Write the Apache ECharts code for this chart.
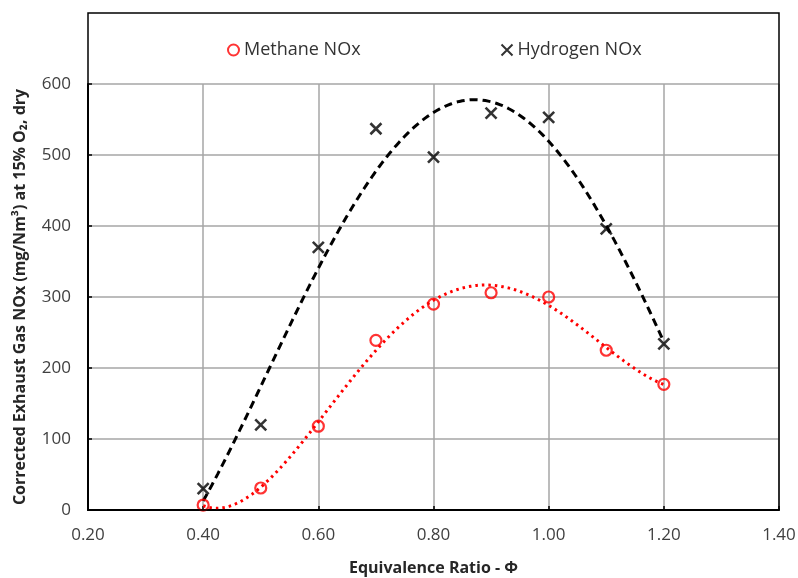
<!DOCTYPE html>
<html>
<head>
<meta charset="utf-8">
<script src="https://cdn.jsdelivr.net/npm/echarts@6/dist/echarts.min.js"></script>
<style>html,body{margin:0;padding:0;background:#fff}#c{width:798px;height:578px}</style>
</head>
<body>
<div id="c"></div>
<script>
// ---- data ----
const phi = [0.40, 0.50, 0.60, 0.70, 0.80, 0.90, 1.00, 1.10, 1.20];
const methaneNOx = [7, 31, 118, 239, 290, 306, 300, 225, 177];
const hydrogenNOx = [30, 120, 370, 537, 497, 559, 553, 396, 234];
const xTicks = [0.20, 0.40, 0.60, 0.80, 1.00, 1.20, 1.40];
const yTicks = [0, 100, 200, 300, 400, 500, 600];
const methaneOrder = 4;
const hydrogenOrder = 4;

// polynomial least-squares trendline (like a spreadsheet trendline)
function polyFit(xs, ys, order) {
  const c = 0.8;
  const n = order + 1;
  const A = Array.from({length: n}, () => new Array(n + 1).fill(0));
  for (let k = 0; k < xs.length; k++) {
    const t = xs[k] - c;
    const p = [];
    for (let i = 0; i < n; i++) p.push(Math.pow(t, i));
    for (let i = 0; i < n; i++) {
      for (let j = 0; j < n; j++) A[i][j] += p[i] * p[j];
      A[i][n] += p[i] * ys[k];
    }
  }
  for (let i = 0; i < n; i++) {
    let m = i;
    for (let r = i + 1; r < n; r++) if (Math.abs(A[r][i]) > Math.abs(A[m][i])) m = r;
    [A[i], A[m]] = [A[m], A[i]];
    for (let r = 0; r < n; r++) {
      if (r === i) continue;
      const f = A[r][i] / A[i][i];
      for (let j = i; j <= n; j++) A[r][j] -= f * A[i][j];
    }
  }
  const coef = A.map((row, i) => row[n] / row[i]);
  return x => coef.reduce((s, a, i) => s + a * Math.pow(x - c, i), 0);
}
function trend(xs, ys, order) {
  const f = polyFit(xs, ys, order);
  const lo = Math.min(...xs), hi = Math.max(...xs);
  const pts = [];
  const steps = 160;
  for (let i = 0; i <= steps; i++) {
    const x = lo + (hi - lo) * i / steps;
    pts.push([x, f(x)]);
  }
  return pts;
}

const FONT = 'Open Sans';
const chart = echarts.init(document.getElementById('c'), null, {renderer: 'canvas'});
chart.setOption({
  animation: false,
  backgroundColor: '#fff',
  textStyle: {fontFamily: FONT},
  grid: {left: 88, right: 19, top: 84, bottom: 68, containLabel: false, outerBoundsMode: 'none'},
  graphic: [{
    type: 'rect', z: 100, silent: true,
    shape: {x: 88, y: 13, width: 691, height: 497},
    style: {fill: 'none', stroke: '#000', lineWidth: 1.5}
  }],
  legend: [
    {data: ['Methane NOx'], left: 222, top: 36, itemWidth: 11, itemHeight: 11, itemGap: 4,
     textStyle: {fontFamily: FONT, fontSize: 18, color: '#333'}},
    {data: ['Hydrogen NOx'], left: 494, top: 36, itemWidth: 11, itemHeight: 11, itemGap: 4,
     textStyle: {fontFamily: FONT, fontSize: 18, color: '#333'}}
  ],
  xAxis: {
    type: 'value', min: 0.2, max: 1.4, interval: 0.2,
    name: 'Equivalence Ratio - Φ', nameLocation: 'middle', nameGap: 50,
    nameTextStyle: {fontFamily: FONT, fontSize: 16, fontWeight: 'bold', color: '#262626'},
    axisLine: {show: true, onZero: false, lineStyle: {color: '#000', width: 2}},
    axisTick: {show: true, inside: true, length: 4, lineStyle: {color: '#000', width: 1.5}},
    axisLabel: {fontFamily: FONT, fontSize: 17, color: '#404040', margin: 17,
      formatter: v => v.toFixed(2)},
    splitLine: {show: true, lineStyle: {color: '#a6a6a6', width: 1.5}}
  },
  yAxis: {
    type: 'value', min: 0, max: 600, interval: 100,
    name: 'Corrected Exhaust Gas NOx (mg/Nm³) at 15% O₂, dry',
    nameLocation: 'middle', nameGap: 60, nameRotate: 90,
    nameTextStyle: {fontFamily: FONT, fontSize: 16, fontWeight: 'bold', color: '#262626'},
    axisLine: {show: true, lineStyle: {color: '#000', width: 2}},
    axisTick: {show: true, inside: true, length: 4, lineStyle: {color: '#000', width: 1.5}},
    axisLabel: {fontFamily: FONT, fontSize: 17, color: '#404040', margin: 17},
    splitLine: {show: true, lineStyle: {color: '#a6a6a6', width: 1.5}}
  },
  series: [
    {
      name: 'Methane trend', type: 'line', showSymbol: false, silent: true,
      data: trend(phi, methaneNOx, methaneOrder),
      lineStyle: {color: '#ff0000', width: 3, type: [2.5, 4]}, z: 3
    },
    {
      name: 'Hydrogen trend', type: 'line', showSymbol: false, silent: true,
      data: trend(phi, hydrogenNOx, hydrogenOrder),
      lineStyle: {color: '#000', width: 3, type: [8, 5]}, z: 3
    },
    {
      name: 'Methane NOx', type: 'scatter', symbol: 'circle', symbolSize: 11,
      data: phi.map((x, i) => [x, methaneNOx[i]]),
      itemStyle: {color: 'rgba(255,255,255,0)', borderColor: '#ff0000', borderWidth: 2.2}, z: 5
    },
    {
      name: 'Hydrogen NOx', type: 'scatter', symbol: 'path://M0,0L10,10M10,0L0,10', symbolSize: 11,
      data: phi.map((x, i) => [x, hydrogenNOx[i]]),
      itemStyle: {color: 'none', borderColor: '#000', borderWidth: 2.6}, z: 5
    }
  ]
});
</script>
</body>
</html>
